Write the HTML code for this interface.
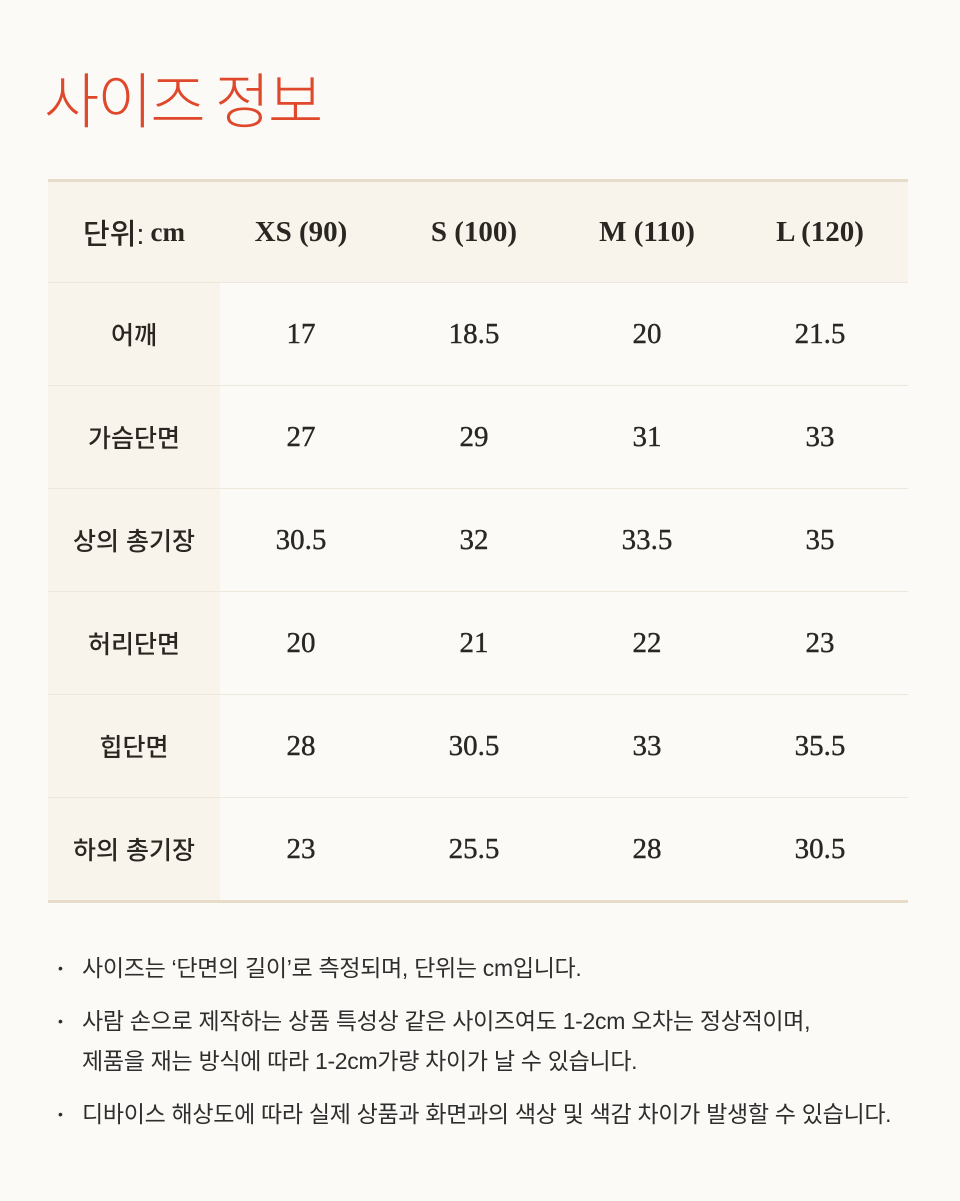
<!DOCTYPE html>
<html><head><meta charset="utf-8"><style>
body{margin:0;width:960px;height:1201px;background:#fbfaf6;position:relative;overflow:hidden;font-family:"Liberation Sans","Noto Sans CJK KR",sans-serif;}
.t{position:absolute;left:44px;top:54px;font-size:60px;color:#e0482c;font-weight:300;letter-spacing:-2px;font-family:"Noto Sans CJK KR",sans-serif;}
.tbl{position:absolute;left:48px;top:179px;width:860px;}
.row{position:relative;height:102px;border-bottom:1px solid #eee7dc;}
.row.h{background:#f8f4eb;border-top:3px solid #e6dcc9;height:100px;}
.row:last-child{border-bottom:3px solid #e6dcc9;}
.lab{position:absolute;left:0;top:0;width:172px;height:100%;background:#f8f4eb;}
.c{position:absolute;top:0;height:100%;display:flex;align-items:center;justify-content:center;width:172px;font-size:29px;color:#2a2622;font-family:"Liberation Serif","Noto Serif CJK SC",serif;-webkit-text-stroke:0.4px #2a2622;}
.c.k{font-family:"Liberation Sans","Noto Sans CJK KR",sans-serif;font-size:25px;font-weight:500;-webkit-text-stroke:0;}
.h .c{font-weight:bold;font-size:29px;-webkit-text-stroke:0;}
.notes{position:absolute;left:58px;top:948px;font-size:23px;color:#2e2e2e;line-height:40px;font-family:"Liberation Sans","Noto Sans CJK KR",sans-serif;letter-spacing:-0.3px;}
.notes p{margin:0 0 13px 0;padding-left:24px;position:relative;white-space:nowrap;}
.notes p:before{content:"•";position:absolute;left:0;font-size:14px;}
</style></head><body>
<div class="t">사이즈 정보</div>
<div class="tbl">
<div class="row h"><div class="c k" style="left:0;font-weight:500">단위: <span style="font-family:'Liberation Serif',serif;font-weight:bold;margin-left:6px;font-size:27px">cm</span></div><div class="c" style="left:167px">XS (90)</div><div class="c" style="left:340px">S (100)</div><div class="c" style="left:513px">M (110)</div><div class="c" style="left:686px">L (120)</div></div>
<div class="row"><div class="lab"></div><div class="c k" style="left:0">어깨</div><div class="c" style="left:167px">17</div><div class="c" style="left:340px">18.5</div><div class="c" style="left:513px">20</div><div class="c" style="left:686px">21.5</div></div>
<div class="row"><div class="lab"></div><div class="c k" style="left:0">가슴단면</div><div class="c" style="left:167px">27</div><div class="c" style="left:340px">29</div><div class="c" style="left:513px">31</div><div class="c" style="left:686px">33</div></div>
<div class="row"><div class="lab"></div><div class="c k" style="left:0">상의 총기장</div><div class="c" style="left:167px">30.5</div><div class="c" style="left:340px">32</div><div class="c" style="left:513px">33.5</div><div class="c" style="left:686px">35</div></div>
<div class="row"><div class="lab"></div><div class="c k" style="left:0">허리단면</div><div class="c" style="left:167px">20</div><div class="c" style="left:340px">21</div><div class="c" style="left:513px">22</div><div class="c" style="left:686px">23</div></div>
<div class="row"><div class="lab"></div><div class="c k" style="left:0">힙단면</div><div class="c" style="left:167px">28</div><div class="c" style="left:340px">30.5</div><div class="c" style="left:513px">33</div><div class="c" style="left:686px">35.5</div></div>
<div class="row"><div class="lab"></div><div class="c k" style="left:0">하의 총기장</div><div class="c" style="left:167px">23</div><div class="c" style="left:340px">25.5</div><div class="c" style="left:513px">28</div><div class="c" style="left:686px">30.5</div></div>
</div>
<div class="notes">
<p>사이즈는 ‘단면의 길이’로 측정되며, 단위는 cm입니다.</p>
<p>사람 손으로 제작하는 상품 특성상 같은 사이즈여도 1-2cm 오차는 정상적이며,<br>제품을 재는 방식에 따라 1-2cm가량 차이가 날 수 있습니다.</p>
<p>디바이스 해상도에 따라 실제 상품과 화면과의 색상 및 색감 차이가 발생할 수 있습니다.</p>
</div>
</body></html>
